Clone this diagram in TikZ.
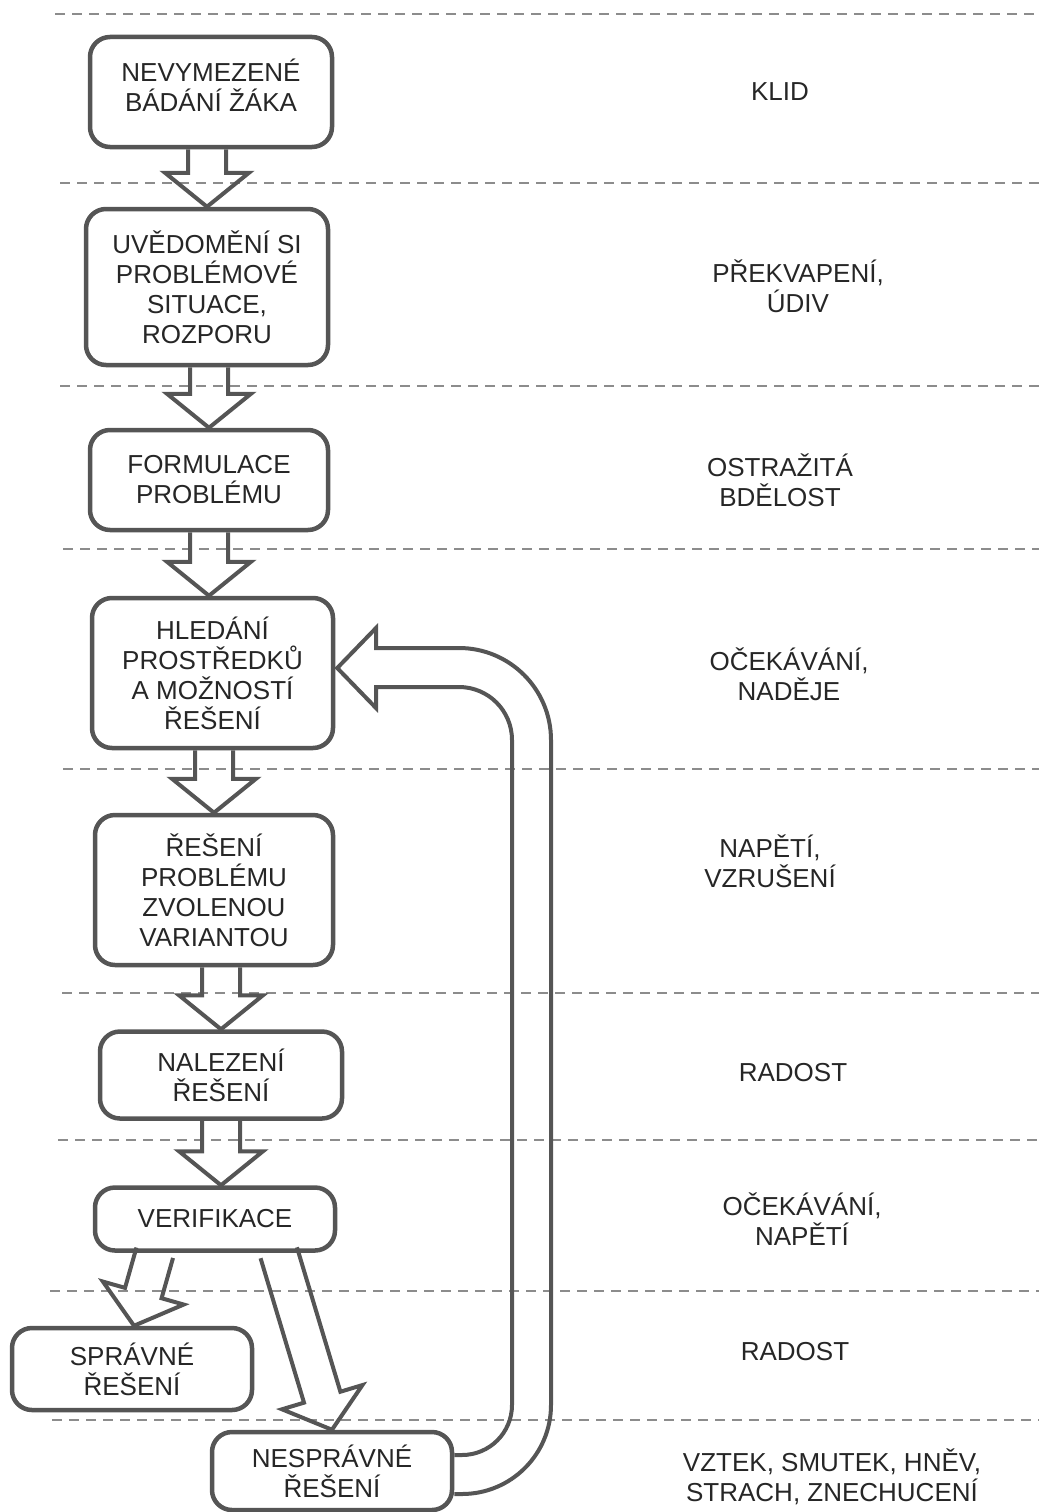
\documentclass[tikz,border=0pt]{standalone}
\usepackage{fontspec}
\setmainfont{Liberation Sans}
\usetikzlibrary{calc}
\definecolor{linec}{HTML}{555555}
\definecolor{dashc}{HTML}{8C8C8C}
\definecolor{txtc}{HTML}{262626}
\newcommand\blockarr[2]{%
  \draw[arrline] let \p1=(#1), \p2=(#2),
    \n1={atan2(\y2-\y1,\x2-\x1)}, \n2={veclen(\x2-\x1,\y2-\y1)} in
    {[shift={(\p1)}, rotate=\n1]
      (0pt,19pt) -- ({\n2*1pt-34pt},19pt) -- ({\n2*1pt-34pt},42pt) -- ({\n2*1pt},0pt)
      -- ({\n2*1pt-34pt},-42pt) -- ({\n2*1pt-34pt},-19pt) -- (0pt,-19pt)};}
\begin{document}
\begin{tikzpicture}[x=1pt,y=-1pt,
  box/.style={draw=linec, line width=4.5pt, rounded corners=20pt, fill=white,
    align=center, font=\fontsize{26}{30}\selectfont, text=txtc, inner sep=0pt},
  lbl/.style={align=center, font=\fontsize{26}{30}\selectfont, text=txtc},
  sep/.style={draw=dashc, line width=2.5pt, dash pattern=on 10pt off 7pt},
  arrline/.style={draw=linec, line width=4pt, line join=miter}]
\useasboundingbox (0,0) rectangle (1039,1512);
% separators
\draw[sep] (55,14) -- (1039,14);
\draw[sep] (60,183) -- (1039,183);
\draw[sep] (60,386) -- (1039,386);
\draw[sep] (63,549) -- (1039,549);
\draw[sep] (63,769) -- (1039,769);
\draw[sep] (62,993) -- (1039,993);
\draw[sep] (58,1140) -- (1039,1140);
\draw[sep] (50,1291) -- (1039,1291);
\draw[sep] (52,1420) -- (1039,1420);
% boxes
\node[box, minimum width=242pt, minimum height=110pt] (b1) at (211,92) {};
\node[lbl] (t1) at ($(b1.center)+(0,-6.5)$) {NEVYMEZENÉ\\BÁDÁNÍ ŽÁKA};
\node[box, minimum width=242pt, minimum height=156pt] (b2) at (207,287) {UVĚDOMĚNÍ SI\\PROBLÉMOVÉ\\SITUACE,\\ROZPORU};
\node[box, minimum width=238pt, minimum height=100pt] (b3) at (209,480) {FORMULACE\\PROBLÉMU};
\node[box, minimum width=241pt, minimum height=150pt] (b4) at (212.5,673) {HLEDÁNÍ\\PROSTŘEDKŮ\\A MOŽNOSTÍ\\ŘEŠENÍ};
\node[box, minimum width=238pt, minimum height=150pt] (b5) at (214,890) {ŘEŠENÍ\\PROBLÉMU\\ZVOLENOU\\VARIANTOU};
\node[box, minimum width=242pt, minimum height=87pt] (b6) at (221,1075) {NALEZENÍ\\ŘEŠENÍ};
\node[box, minimum width=240pt, minimum height=63pt] (b7) at (215,1219) {VERIFIKACE};
\node[box, minimum width=240pt, minimum height=82pt] (b8) at (132,1369) {SPRÁVNÉ\\ŘEŠENÍ};
\node[box, minimum width=240pt, minimum height=78pt] (b9) at (332,1471) {NESPRÁVNÉ\\ŘEŠENÍ};
% block arrows
\blockarr{b2.north |- b1.south}{b2.north}
\blockarr{b3.north |- b2.south}{b3.north}
\blockarr{b3.south}{b3.south |- b4.north}
\blockarr{b5.north |- b4.south}{b5.north}
\blockarr{b6.north |- b5.south}{b6.north}
\blockarr{b6.south}{b6.south |- b7.north}
\blockarr{$(b7.south west)+(62,0)$}{$(b8.north)+(2,0)$}
\blockarr{$(b7.south west)+(186,0)$}{b9.north}
% loop arrow back to b4
\coordinate (tip) at ($(b4.east)+(2,-5)$);
\draw[arrline] ($(b9.east)+(0,23)$) -- (462,1494)
  .. controls (511.2,1494) and (551,1454.2) .. (551,1405) -- (551,740)
  .. controls (551,689.2) and (509.8,648) .. (459,648) -- (376,648) -- (376,628)
  -- (tip) -- (376,708) -- (376,687) -- (459,687)
  .. controls (488.3,687) and (512,710.7) .. (512,740) -- (512,1405)
  .. controls (512,1432.6) and (489.6,1455) .. (462,1455) -- ($(b9.east)+(0,-16)$);
% right column
\node[lbl] (l1) at (780,92) {KLID};
\node[lbl] (l2) at (798,286) {PŘEKVAPENÍ,\\ÚDIV};
\node[lbl] (l3) at (780,480) {OSTRAŽITÁ\\BDĚLOST};
\node[lbl] (l4) at (789,674) {OČEKÁVÁNÍ,\\NADĚJE};
\node[lbl] (l5) at (770,861) {NAPĚTÍ,\\VZRUŠENÍ};
\node[lbl] (l6) at (793,1073) {RADOST};
\node[lbl] (l7) at (802,1219) {OČEKÁVÁNÍ,\\NAPĚTÍ};
\node[lbl] (l8) at (795,1352) {RADOST};
\node[lbl] (l9) at (832,1477) {VZTEK, SMUTEK, HNĚV,\\STRACH, ZNECHUCENÍ};
\end{tikzpicture}
\end{document}
